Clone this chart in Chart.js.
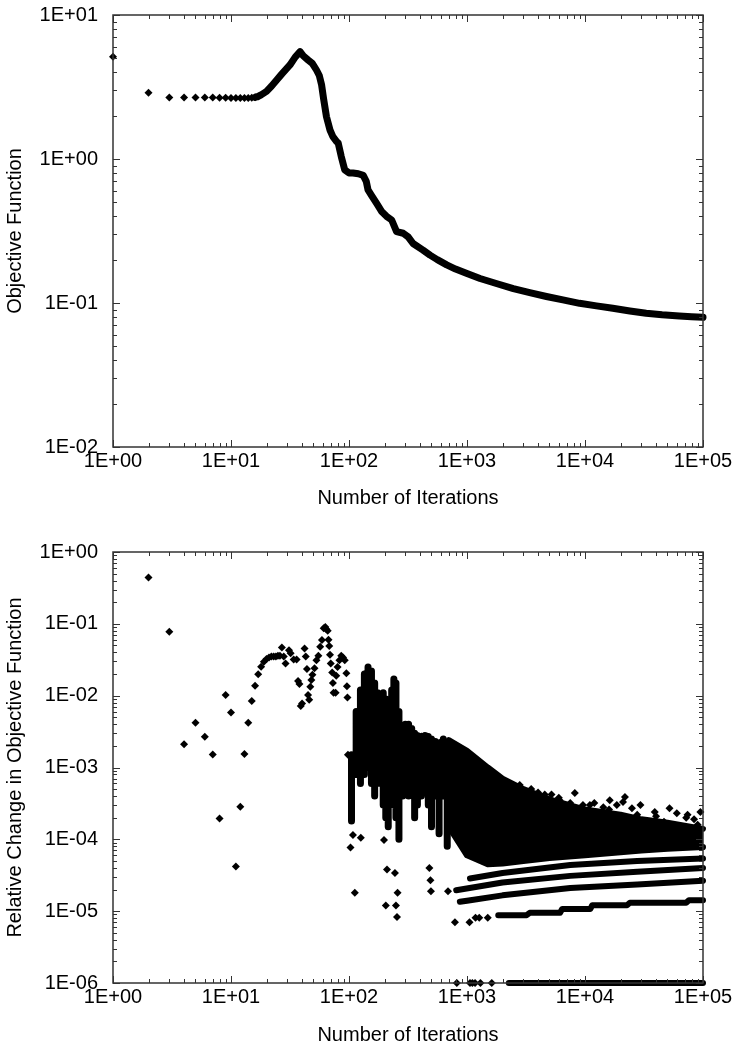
<!DOCTYPE html>
<html>
<head>
<meta charset="utf-8">
<script src="https://cdn.jsdelivr.net/npm/chart.js@4"></script>
<style>
  body { margin: 0; background: #fff; }
  canvas { display: block; }
</style>
</head>
<body>
<canvas id="chartObj" width="740" height="525"></canvas>
<canvas id="chartRel" width="740" height="525"></canvas>
<script>
// ---- top panel: objective function vs iterations ----
const objIter  = [1,2,3,4,5,6,7,8,9,10,11,12,13,14,15,16,17,18,20,22,24.4,27,31.6,35,38.5,41,45,49,53,56,58.6,61,64.4,69,73,78,81,86,92,100,108,120,132,140,145,155,172,190,208,230,253,288,317,349,424,486,560,673,800,1000,1290,1800,2470,3400,4710,6500,9000,12500,17200,24000,33000,45000,63000,80000,100000];
const objValue = [5.13,2.88,2.67,2.67,2.67,2.67,2.67,2.66,2.66,2.65,2.65,2.65,2.65,2.65,2.66,2.68,2.72,2.79,2.95,3.2,3.54,3.9,4.5,5.1,5.56,5.2,4.87,4.6,4.15,3.8,3.27,2.6,1.97,1.59,1.43,1.33,1.29,1.04,0.84,0.80,0.80,0.79,0.77,0.70,0.61,0.56,0.49,0.43,0.40,0.377,0.313,0.305,0.288,0.259,0.233,0.215,0.200,0.184,0.172,0.160,0.148,0.136,0.126,0.118,0.111,0.105,0.0995,0.0955,0.0919,0.0880,0.0848,0.0828,0.0813,0.0803,0.0796];
const objDiscreteCount = 17;   // first iterations show as separate markers

// ---- bottom panel: relative change ----
const relIter  = [2,3,4,5,6,7,8,9,10,11,12,13,14,15,16,17,18,19,20,21,22,23,24,25,26,27,28,29,31,32,34,36,37,38,39,40,42,43,44,45,46,47,48,49,51,53,55,57,59,61,63,64,66,67,68,69,70,72,73,74,77,78,80,83,86,89,92,95,96,97,98];
const relValue = [0.443,0.0776,0.0021,0.0042,0.00268,0.00152,1.95e-4,0.0102,0.00585,4.2e-5,2.84e-4,0.00154,0.0042,0.0084,0.01375,0.0198,0.0253,0.0297,0.0324,0.034,0.035,0.035,0.035,0.036,0.036,0.047,0.035,0.028,0.043,0.039,0.032,0.032,0.016,0.0145,0.0072,0.0078,0.0455,0.035,0.0235,0.0102,0.0088,0.0133,0.0165,0.0195,0.024,0.031,0.036,0.048,0.0595,0.0865,0.09,0.085,0.08,0.06,0.049,0.037,0.028,0.021,0.015,0.011,0.011,0.019,0.025,0.031,0.036,0.034,0.031,0.0205,0.0135,0.0094,0.0015];

// vertical runs of overlapping markers between 1E+02 and 1E+03
const colIter   = [105,115,125,135,145,155,165,175,185,195,205,215,230,240,250,265,285,300,320,340,360,380,410,440,470,500,540,580,630,680];
const colTop    = [1.5e-3,6e-3,0.012,0.02,0.025,0.022,0.015,0.011,0.01,0.011,0.009,0.006,0.012,0.017,0.015,0.006,0.0035,0.004,0.004,0.0035,0.003,0.0028,0.0027,0.0028,0.0027,0.0025,0.0023,0.0022,0.0025,0.0022];
const colBottom = [1.8e-4,8e-4,6e-4,8e-4,1e-3,6e-4,4e-4,8e-4,6e-4,3e-4,2e-4,1.5e-4,8e-4,3e-4,2e-4,1e-4,4e-4,5e-4,4e-4,5e-4,2e-4,3e-4,4e-4,5e-4,3e-4,1.5e-4,4e-4,1.2e-4,4e-4,8e-5];

// dense cloud after 1E+03
const cloudIter   = [700,1000,1500,2000,3000,5000,10000,20000,30000,50000,100000];
const cloudTop    = [2.4e-3,1.7e-3,1.0e-3,7e-4,5e-4,3.6e-4,2.6e-4,2.2e-4,1.9e-4,1.7e-4,1.4e-4];
const cloudBottom = [1.5e-4,6e-5,4.5e-5,4.6e-5,5e-5,5.5e-5,6e-5,6.6e-5,7e-5,7.4e-5,7.8e-5];

// isolated markers around the cloud
const sparseIter  = [103,108,112,126,198,205,210,245,250,255,258,480,490,495,690,790,1050,1180,1270,1500,285,317,410,460,585,870,2800,3500,4000,5200,6000,7500,9600,12000,14300,16000,18600,21000,25000,27700,33000,40000,46700,52000,60000,72000,84000,90000,2985,4560,6100,8200,11000,16200,21800,29500,39000,52000,74000,95000];
const sparseValue = [7.7e-5,1.15e-4,1.8e-5,1.05e-4,9.8e-5,1.2e-5,3.8e-5,3.4e-5,1.2e-5,8.3e-6,1.8e-5,4e-5,2.7e-5,1.9e-5,1.9e-5,7e-6,7e-6,8.1e-6,8.1e-6,8.1e-6,3.8e-3,3.9e-3,2.7e-3,2.7e-3,2.2e-3,1.5e-3,5.7e-4,5e-4,4.5e-4,4.2e-4,3.8e-4,3.2e-4,3.0e-4,3.2e-4,2.8e-4,2.6e-4,3.0e-4,3.3e-4,2.7e-4,2.2e-4,1.66e-4,2.1e-4,1.76e-4,1.58e-4,2.3e-4,2.0e-4,1.9e-4,1.6e-4,4.8e-4,4.2e-4,3.5e-4,4.4e-4,3.0e-4,3.5e-4,3.9e-4,3.0e-4,2.4e-4,2.7e-4,2.2e-4,2.4e-4];

// quantised streaks below the cloud
const band1Iter  = [1840,3200,3400,6150,6400,11100,11500,22700,24000,72000,76000,100000];
const band1Value = [8.8e-6,8.8e-6,9.5e-6,9.5e-6,1.07e-5,1.07e-5,1.21e-5,1.21e-5,1.31e-5,1.31e-5,1.42e-5,1.42e-5];
const band2Iter  = [870,1000,2000,7500,27700,100000];
const band2Value = [1.35e-5,1.4e-5,1.66e-5,2.1e-5,2.35e-5,2.65e-5];
const band3Iter  = [810,2000,7500,27700,100000];
const band3Value = [1.95e-5,2.5e-5,3.1e-5,3.55e-5,4.0e-5];
const band4Iter  = [1060,2000,7500,27700,100000];
const band4Value = [2.85e-5,3.4e-5,4.4e-5,5.0e-5,5.4e-5];

// values that hit the bottom of the axis
const floorIter  = [820,1060,1110,1170,1300,1620];
const floorValue = [1e-6,1e-6,1e-6,1e-6,1e-6,1e-6];
const floorRunIter  = [2260,100000];
const floorRunValue = [1e-6,1e-6];

const FONT = 'Liberation Sans, Arial, Helvetica, sans-serif';

function pairs(xs, ys) {
    return xs.map((x, i) => ({ x: x, y: ys[i] }));
}

function expLabel(v) {
    const e = Math.round(Math.log10(v));
    return '1E' + (e < 0 ? '-' : '+') + String(Math.abs(e)).padStart(2, '0');
}

function decades(scale) {
    const lo = Math.round(Math.log10(scale.min)), hi = Math.round(Math.log10(scale.max));
    const t = [];
    for (let e = lo; e <= hi; e++) t.push({ value: Math.pow(10, e) });
    scale.ticks = t;
}

// gnuplot style frame with inward ticks on all four sides
const frameTicks = {
    id: 'frameTicks',
    afterDatasetsDraw(chart) {
        const ctx = chart.ctx, a = chart.chartArea;
        const xs = chart.scales.x, ys = chart.scales.y;
        ctx.save();
        ctx.strokeStyle = '#333';
        ctx.lineWidth = 1;
        const mark = (scale, horiz) => {
            const lo = Math.round(Math.log10(scale.min)), hi = Math.round(Math.log10(scale.max));
            for (let e = lo; e <= hi; e++) {
                for (let m = 1; m <= 9; m++) {
                    const v = m * Math.pow(10, e);
                    if (v > scale.max * 1.0001) break;
                    const p = Math.round(scale.getPixelForValue(v)) + 0.5;
                    const len = m === 1 ? 7 : 4;
                    ctx.beginPath();
                    if (horiz) {
                        ctx.moveTo(p, a.bottom); ctx.lineTo(p, a.bottom - len);
                        ctx.moveTo(p, a.top); ctx.lineTo(p, a.top + len);
                    } else {
                        ctx.moveTo(a.left, p); ctx.lineTo(a.left + len, p);
                        ctx.moveTo(a.right, p); ctx.lineTo(a.right - len, p);
                    }
                    ctx.stroke();
                }
            }
        };
        mark(xs, true);
        mark(ys, false);
        ctx.lineWidth = 1.5;
        ctx.strokeRect(a.left, a.top, a.right - a.left, a.bottom - a.top);
        ctx.restore();
    }
};

function logAxes(yMin, yMax, yTitle, xHeight, xTitlePad) {
    return {
        x: {
            type: 'logarithmic', position: 'bottom', min: 1, max: 100000,
            afterBuildTicks: decades,
            afterFit: s => { s.height = xHeight; s.paddingLeft = 0; s.paddingRight = 0; },
            grid: { display: false }, border: { display: false },
            ticks: { color: '#000', font: { family: FONT, size: 20 }, padding: -6, maxRotation: 0, autoSkip: false, callback: expLabel },
            title: { display: true, text: 'Number of Iterations', color: '#000', font: { family: FONT, size: 20 }, padding: { top: 0, bottom: xTitlePad } }
        },
        y: {
            type: 'logarithmic', position: 'left', min: yMin, max: yMax,
            afterBuildTicks: decades,
            afterFit: s => { s.width = 113; s.paddingTop = 0; s.paddingBottom = 0; },
            grid: { display: false }, border: { display: false },
            ticks: { color: '#000', font: { family: FONT, size: 20 }, padding: 7, autoSkip: false, callback: expLabel },
            title: { display: true, text: yTitle, color: '#000', font: { family: FONT, size: 20 }, padding: { top: 3, bottom: 0 } }
        }
    };
}

const markers = { showLine: false, pointStyle: 'rectRot', pointRadius: 4, pointHoverRadius: 4, pointBorderWidth: 0, backgroundColor: '#000', borderColor: '#000', clip: 8 };
const thick = w => ({ showLine: true, pointRadius: 0, borderColor: '#000', backgroundColor: '#000', borderWidth: w, borderJoinStyle: 'round', borderCapStyle: 'round', tension: 0, spanGaps: false, clip: 8 });

window.onload = function() {
    Chart.defaults.font.family = FONT;

    new Chart(document.getElementById('chartObj').getContext('2d'), {
        type: 'scatter',
        data: {
            datasets: [
                Object.assign({ data: pairs(objIter.slice(0, objDiscreteCount), objValue.slice(0, objDiscreteCount)) }, markers),
                Object.assign({ data: pairs(objIter.slice(objDiscreteCount - 2), objValue.slice(objDiscreteCount - 2)) }, thick(7))
            ]
        },
        options: {
            responsive: false, animation: false, devicePixelRatio: 1,
            layout: { padding: { top: 15, right: 37, left: 0, bottom: 0 } },
            plugins: { legend: { display: false }, tooltip: { enabled: false } },
            scales: logAxes(0.01, 10, 'Objective Function', 78, 15)
        },
        plugins: [frameTicks]
    });

    const columns = [];
    colIter.forEach((n, i) => {
        columns.push({ x: n, y: colTop[i] }, { x: n, y: colBottom[i] }, { x: n, y: null });
    });

    new Chart(document.getElementById('chartRel').getContext('2d'), {
        type: 'scatter',
        data: {
            datasets: [
                Object.assign({ data: pairs(cloudIter, cloudTop), fill: '+1' }, thick(6)),
                Object.assign({ data: pairs(cloudIter, cloudBottom) }, thick(6)),
                Object.assign({ data: columns }, thick(7)),
                Object.assign({ data: pairs(band1Iter, band1Value) }, thick(6)),
                Object.assign({ data: pairs(band2Iter, band2Value) }, thick(6)),
                Object.assign({ data: pairs(band3Iter, band3Value) }, thick(6)),
                Object.assign({ data: pairs(band4Iter, band4Value) }, thick(6)),
                Object.assign({ data: pairs(floorRunIter, floorRunValue) }, thick(6)),
                Object.assign({ data: pairs(floorIter, floorValue) }, markers),
                Object.assign({ data: pairs(sparseIter, sparseValue) }, markers),
                Object.assign({ data: pairs(relIter, relValue) }, markers)
            ]
        },
        options: {
            responsive: false, animation: false, devicePixelRatio: 1,
            layout: { padding: { top: 27, right: 37, left: 0, bottom: 0 } },
            plugins: { legend: { display: false }, tooltip: { enabled: false } },
            scales: logAxes(1e-6, 1, 'Relative Change in Objective Function', 67, 3)
        },
        plugins: [frameTicks]
    });
};
</script>
</body>
</html>
